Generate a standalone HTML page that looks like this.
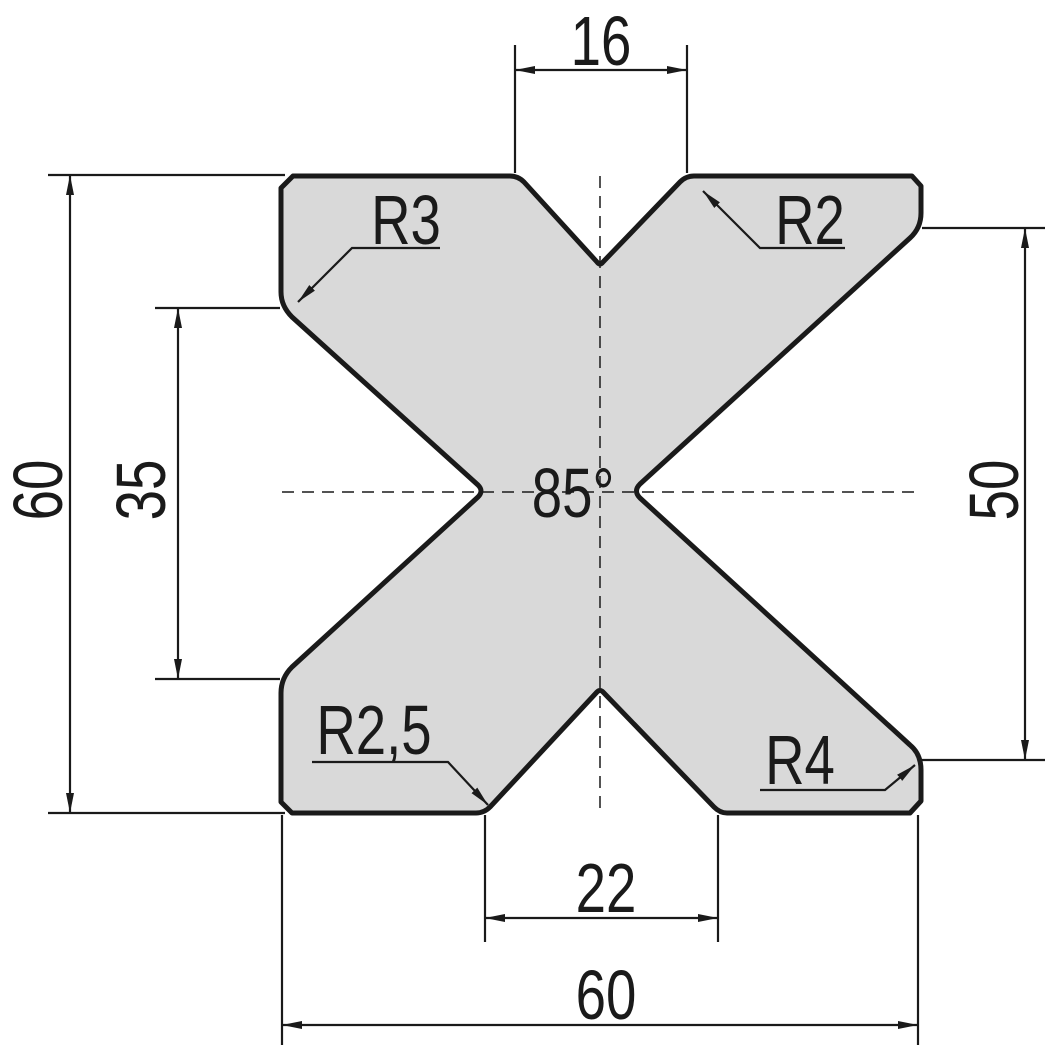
<!DOCTYPE html>
<html><head><style>html,body{margin:0;padding:0;background:#fff}</style></head>
<body>
<svg width="1049" height="1049" viewBox="0 0 1049 1049" xmlns="http://www.w3.org/2000/svg">
<defs>
<marker id="a" viewBox="0 0 20 8" refX="20" refY="4" markerWidth="20" markerHeight="8" markerUnits="userSpaceOnUse" orient="auto-start-reverse"><path d="M0,0 L20,4 L0,8 Z" fill="#1a1a1a"/></marker>
</defs>
<path d="M293,176 L510,176 Q518,176 524,182 L597,262 Q600,266 603,262 L680,182 Q686,176 694,176 L912,176 L921,186 L921,213 Q921,228 910,238 L640,484 Q633,491 640,498 L910,745 Q921,754 921,770 L921,801 L910,813 L727,813 Q720,813 714,807 L603,692 Q600,689 597,692 L490,807 Q484,813 476,813 L292,813 L281,802 L281,693 Q281,678 292,667 L478,497 Q484,491 478,485 L292,317 Q281,306 281,292 L281,188 Z" fill="#d9d9d9" stroke="#1a1a1a" stroke-width="5" stroke-linejoin="round"/>
<g stroke="#1a1a1a" stroke-width="1.5" fill="none" stroke-dasharray="12,8">
<line x1="600" y1="176" x2="600" y2="812"/>
<line x1="282" y1="492" x2="920" y2="492"/>
</g>
<g stroke="#1a1a1a" stroke-width="2.2" fill="none">
<line x1="515" y1="45" x2="515" y2="173"/>
<line x1="687" y1="45" x2="687" y2="173"/>
<line x1="515" y1="70" x2="687" y2="70" marker-start="url(#a)" marker-end="url(#a)"/>
<line x1="48" y1="175" x2="285" y2="175"/>
<line x1="48" y1="813" x2="285" y2="813"/>
<line x1="70" y1="175" x2="70" y2="813" marker-start="url(#a)" marker-end="url(#a)"/>
<line x1="155" y1="308" x2="280" y2="308"/>
<line x1="155" y1="679" x2="280" y2="679"/>
<line x1="178" y1="308" x2="178" y2="679" marker-start="url(#a)" marker-end="url(#a)"/>
<line x1="922" y1="228" x2="1045" y2="228"/>
<line x1="922" y1="760" x2="1045" y2="760"/>
<line x1="1025" y1="228" x2="1025" y2="760" marker-start="url(#a)" marker-end="url(#a)"/>
<line x1="485" y1="815" x2="485" y2="942"/>
<line x1="718" y1="815" x2="718" y2="942"/>
<line x1="485" y1="918" x2="718" y2="918" marker-start="url(#a)" marker-end="url(#a)"/>
<line x1="282" y1="815" x2="282" y2="1045"/>
<line x1="918" y1="815" x2="918" y2="1045"/>
<line x1="282" y1="1025" x2="918" y2="1025" marker-start="url(#a)" marker-end="url(#a)"/>
<polyline points="440,248 352,248 298,302" marker-end="url(#a)"/>
<polyline points="845,248 760,248 703,191" marker-end="url(#a)"/>
<polyline points="312,762 448,762 488,805" marker-end="url(#a)"/>
<polyline points="760,790 885,790 915,765" marker-end="url(#a)"/>
</g>
<g font-family="'Liberation Sans',sans-serif" font-size="70" fill="#1a1a1a" text-anchor="middle">
<text transform="translate(601,65) scale(0.78,1)">16</text>
<text transform="translate(406,244) scale(0.78,1)">R3</text>
<text transform="translate(810,244) scale(0.78,1)">R2</text>
<text transform="translate(374,754) scale(0.78,1)">R2,5</text>
<text transform="translate(800,784) scale(0.78,1)">R4</text>
<text transform="translate(573,517) scale(0.78,1)">85°</text>
<text transform="translate(606,912) scale(0.78,1)">22</text>
<text transform="translate(606,1019) scale(0.78,1)">60</text>
<text transform="translate(62,490) rotate(-90) scale(0.78,1)">60</text>
<text transform="translate(165,490) rotate(-90) scale(0.78,1)">35</text>
<text transform="translate(1018,490) rotate(-90) scale(0.78,1)">50</text>
</g>
</svg>
</body></html>
